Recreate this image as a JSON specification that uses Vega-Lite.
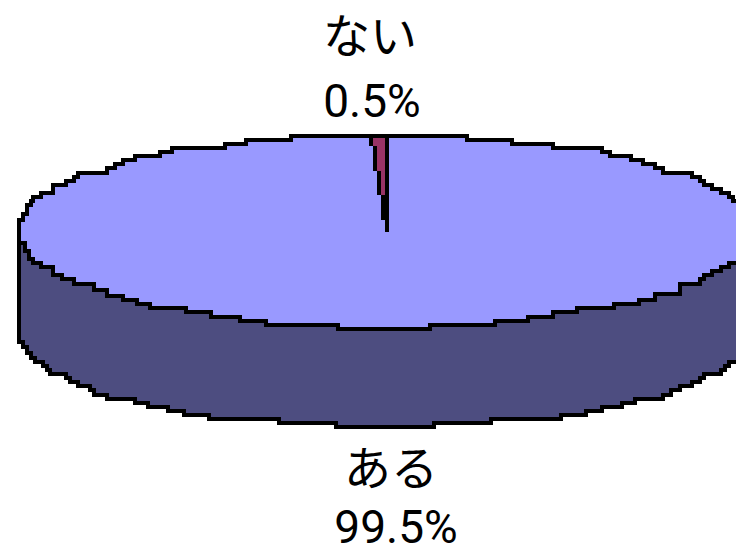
{"$schema":"https://vega.github.io/schema/vega-lite/v6.json","width":736,"height":546,"autosize":{"type":"none"},"padding":0,"background":"white","config":{"view":{"stroke":null}},
"datasets":{
"top":[{"x":19,"y":226},{"x":19,"y":220},{"x":23,"y":214},{"x":27,"y":205},{"x":31,"y":201},{"x":33,"y":197},{"x":41,"y":193},{"x":53,"y":185},{"x":66,"y":181},{"x":74,"y":177},{"x":78,"y":173},{"x":107,"y":168},{"x":115,"y":164},{"x":123,"y":160},{"x":135,"y":156},{"x":160,"y":152},{"x":172,"y":148},{"x":225,"y":144},{"x":246,"y":140},{"x":291,"y":136},{"x":467,"y":140},{"x":512,"y":144},{"x":553,"y":148},{"x":602,"y":152},{"x":610,"y":156},{"x":631,"y":160},{"x":643,"y":164},{"x":655,"y":168},{"x":663,"y":173},{"x":692,"y":177},{"x":700,"y":181},{"x":704,"y":185},{"x":712,"y":189},{"x":721,"y":193},{"x":729,"y":197},{"x":733,"y":201},{"x":736,"y":201}],
"rim":[{"x":19,"y":226},{"x":19,"y":243},{"x":25,"y":251},{"x":29,"y":259},{"x":33,"y":263},{"x":41,"y":267},{"x":53,"y":275},{"x":62,"y":279},{"x":74,"y":284},{"x":94,"y":290},{"x":107,"y":296},{"x":123,"y":300},{"x":137,"y":304},{"x":150,"y":308},{"x":186,"y":312},{"x":211,"y":317},{"x":240,"y":321},{"x":266,"y":325},{"x":338,"y":329},{"x":430,"y":325},{"x":495,"y":321},{"x":528,"y":317},{"x":553,"y":312},{"x":577,"y":308},{"x":614,"y":304},{"x":639,"y":300},{"x":655,"y":294},{"x":680,"y":284},{"x":700,"y":279},{"x":704,"y":275},{"x":712,"y":271},{"x":721,"y":267},{"x":729,"y":263},{"x":736,"y":263}],
"bottom":[{"x":19,"y":226},{"x":19,"y":342},{"x":23,"y":347},{"x":27,"y":353},{"x":31,"y":358},{"x":35,"y":362},{"x":43,"y":366},{"x":47,"y":370},{"x":50,"y":374},{"x":66,"y":378},{"x":70,"y":382},{"x":78,"y":386},{"x":90,"y":390},{"x":94,"y":395},{"x":107,"y":399},{"x":135,"y":403},{"x":148,"y":407},{"x":168,"y":411},{"x":184,"y":415},{"x":209,"y":419},{"x":279,"y":423},{"x":336,"y":427},{"x":434,"y":423},{"x":491,"y":419},{"x":561,"y":415},{"x":586,"y":411},{"x":602,"y":407},{"x":622,"y":403},{"x":635,"y":399},{"x":663,"y":395},{"x":671,"y":390},{"x":680,"y":386},{"x":692,"y":382},{"x":700,"y":378},{"x":704,"y":374},{"x":721,"y":370},{"x":725,"y":366},{"x":729,"y":362},{"x":736,"y":362}],
"wedge":[{"x":373,"x2":385,"y":138,"y2":146,"part":"fill"},{"x":377,"x2":385,"y":146,"y2":171,"part":"fill"},{"x":381,"x2":385,"y":171,"y2":195,"part":"fill"},{"x":369,"x2":373,"y":138,"y2":146,"part":"edge"},{"x":373,"x2":377,"y":146,"y2":171,"part":"edge"},{"x":377,"x2":381,"y":171,"y2":195,"part":"edge"},{"x":381,"x2":385,"y":195,"y2":220,"part":"edge"},{"x":385,"x2":389,"y":136,"y2":232,"part":"edge"}],
"labels":[{"x":370,"y":53,"label":"ない","kind":"word"},{"x":372,"y":117,"label":"0.5%","kind":"share"},{"x":391,"y":485,"label":"ある","kind":"word"},{"x":396,"y":543,"label":"99.5%","kind":"share"}]
},
"encoding":{"x":{"field":"x","type":"quantitative","scale":{"domain":[0,736],"nice":false,"zero":false},"axis":null},"y":{"field":"y","type":"quantitative","scale":{"domain":[546,0],"nice":false,"zero":false},"axis":null}},
"layer":[
{"data":{"name":"bottom"},"mark":{"type":"area","interpolate":"step-after","color":"#4d4d80"},"encoding":{"y2":{"datum":226}}},
{"data":{"name":"top"},"mark":{"type":"area","interpolate":"step-after","color":"#9999ff"},"encoding":{"y2":{"datum":232}}},
{"data":{"name":"rim"},"mark":{"type":"area","interpolate":"step-after","color":"#9999ff"},"encoding":{"y2":{"datum":222}}},
{"data":{"name":"top"},"mark":{"type":"line","interpolate":"step-after","color":"black","strokeWidth":4,"strokeCap":"square"}},
{"data":{"name":"rim"},"mark":{"type":"line","interpolate":"step-after","color":"black","strokeWidth":4,"strokeCap":"square"}},
{"data":{"name":"bottom"},"mark":{"type":"line","interpolate":"step-after","color":"black","strokeWidth":4,"strokeCap":"square"}},
{"data":{"name":"wedge"},"mark":{"type":"rect"},"encoding":{"x2":{"field":"x2"},"y2":{"field":"y2"},"color":{"field":"part","type":"nominal","legend":null,"scale":{"domain":["fill","edge"],"range":["#993366","#000000"]}}}},
{"data":{"name":"labels"},"transform":[{"filter":"datum.kind === 'word'"}],"mark":{"type":"text","font":"Noto Sans CJK JP","fontSize":47,"fontWeight":400,"align":"center","baseline":"alphabetic","color":"black"},"encoding":{"text":{"field":"label"}}},
{"data":{"name":"labels"},"transform":[{"filter":"datum.kind === 'share'"}],"mark":{"type":"text","font":"Roboto","fontSize":46,"align":"center","baseline":"alphabetic","color":"black"},"encoding":{"text":{"field":"label"}}}
]}
